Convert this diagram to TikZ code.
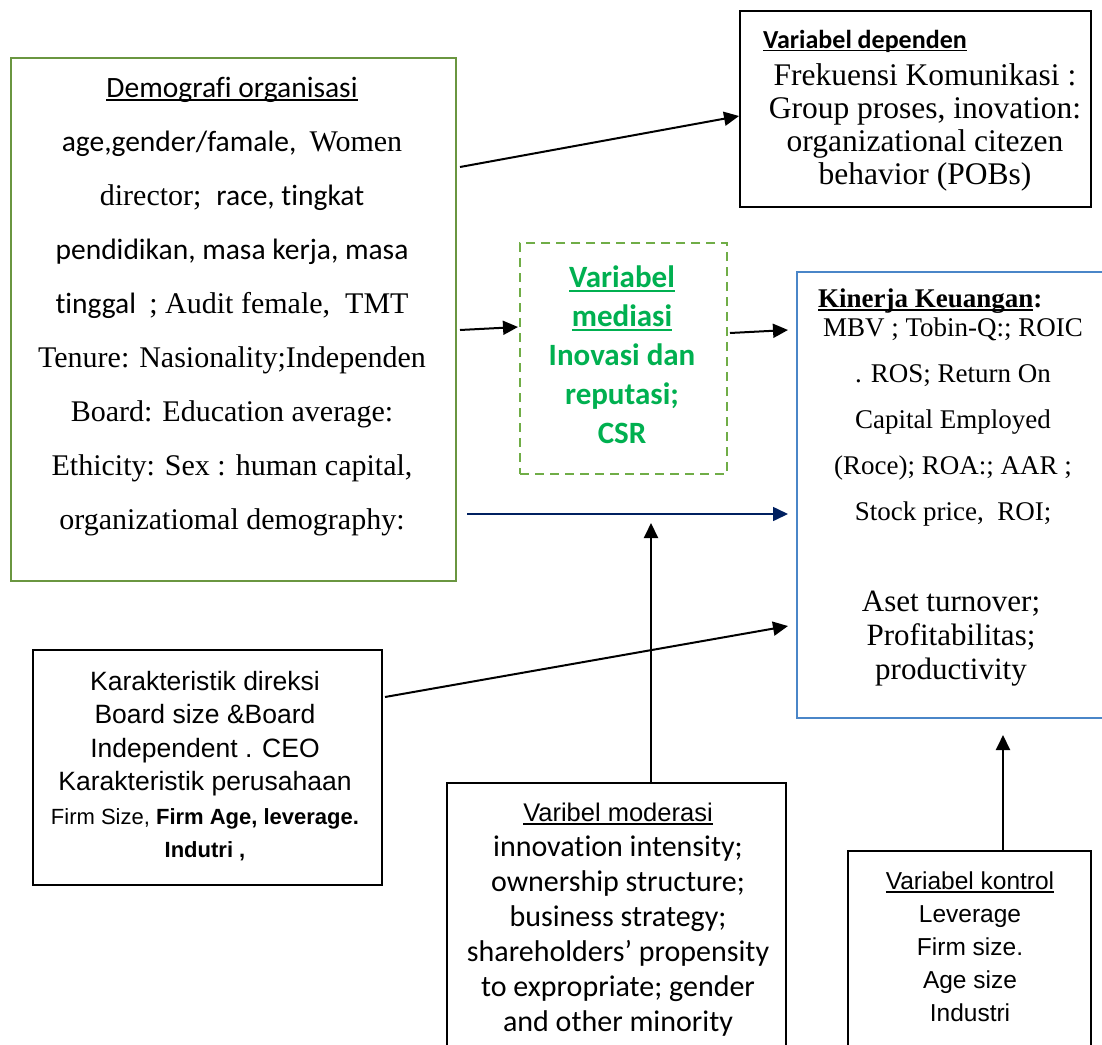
\documentclass[tikz,border=0pt]{standalone}
\usepackage{fontspec}
\setmainfont{Liberation Serif}
\newfontfamily\carl[Ligatures=NoCommon]{Carlito}
\newfontfamily\arl{Liberation Sans}
\usetikzlibrary{arrows.meta}
% underline with a bar scaled to the current font
\newcommand\ulbar[1]{\setbox0\hbox{#1}\rlap{\rule[-0.13em]{\wd0}{0.07em}}\box0}
\newcommand\tmr{\rmfamily\fontsize{30}{54}\selectfont}
\definecolor{demogreen}{RGB}{106,150,64}
\definecolor{medgreen}{RGB}{112,173,71}
\definecolor{medtext}{RGB}{0,176,80}
\definecolor{kinblue}{RGB}{74,134,200}
\definecolor{navy}{RGB}{0,32,96}
\tikzset{
  box/.style={draw, line width=2pt, inner sep=0pt, anchor=north west},
  lbl/.style={inner sep=0pt, align=center},
  arr/.style={line width=2pt, -{Triangle[length=15pt,width=14pt]}},
}
\begin{document}
\begin{tikzpicture}[x=1pt,y=-1pt]
\useasboundingbox (0,0) rectangle (1102,1044);
\fill[white] (0,0) rectangle (1102,1044);
\clip (0,0) rectangle (1102,1044);

% boxes
\node[box, draw=demogreen, minimum width=445pt, minimum height=523pt] (demo) at (10,57) {};
\node[box, minimum width=351pt, minimum height=196pt] (dep) at (739,10) {};
\node[box, draw=medgreen, dash pattern=on 9pt off 6pt, minimum width=207pt, minimum height=231pt] (med) at (519,242) {};
\node[box, draw=kinblue, minimum width=316pt, minimum height=446pt] (kin) at (796,271) {};
\node[box, minimum width=349pt, minimum height=235pt] (kar) at (32,649) {};
\node[box, minimum width=339pt, minimum height=280pt] (mod) at (446,782) {};
\node[box, minimum width=243pt, minimum height=220pt] (kon) at (847,850) {};

% texts
\node[lbl, anchor=north, font=\carl\fontsize{29.5}{54}\selectfont] (demotxt) at (232,77) {%
\ulbar{Demografi organisasi}\\
{age,gender/famale,\ \ }{\tmr Women}\\
{\tmr director;\ \ }{race, tingkat}\\
pendidikan, masa kerja, masa\\
{tinggal\ \ }{\tmr ; Audit female,\ \ TMT}\\
{\tmr Tenure: Nasionality;Independen}\\
{\tmr Board: Education average:}\\
{\tmr Ethicity: Sex : human capital,}\\
{\tmr organizatiomal demography:}};

\node[lbl, anchor=base west, font=\carl\bfseries\fontsize{26}{30}\selectfont] (deptitle) at (763,48) {\ulbar{Variabel dependen}};
\node[lbl, anchor=north, font=\fontsize{31.5}{33}\selectfont] (deptxt) at (925,63) {Frekuensi Komunikasi :\\Group proses, inovation:\\organizational citezen\\behavior (POBs)};

\node[lbl, anchor=north, text=medtext, font=\carl\bfseries\fontsize{31}{39}\selectfont] (medtxt) at (622,266) {\ulbar{Variabel}\\\ulbar{mediasi}\\Inovasi dan\\reputasi;\\CSR};

\node[lbl, anchor=base west, font=\bfseries\fontsize{27}{30}\selectfont] (kintitle) at (818,307) {\ulbar{Kinerja Keuangan}:};
\node[lbl, anchor=north, font=\fontsize{27}{46}\selectfont] (kinA) at (953,318) {MBV ; Tobin-Q:; ROIC\\. ROS; Return On\\Capital Employed\\(Roce); ROA:; AAR ;\\Stock price,\ \ ROI;};
\node[lbl, anchor=north, font=\fontsize{31}{34}\selectfont] (kinB) at (951,591) {Aset turnover;\\Profitabilitas;\\productivity};

\node[lbl, anchor=north, font=\arl\fontsize{26.5}{33.4}\selectfont] (kartxt) at (205,671) {Karakteristik direksi\\Board size \&Board\\Independent . CEO\\Karakteristik perusahaan\\{\fontsize{22}{24}\selectfont Firm Size, \bfseries Firm Age, leverage.}\\{\fontsize{22}{24}\selectfont\bfseries Indutri ,}};

\node[lbl, anchor=north, font=\carl\fontsize{30}{35}\selectfont] (modtxt) at (618,803) {{\arl\fontsize{25.5}{35}\selectfont\ulbar{Varibel moderasi}}\\innovation intensity;\\ownership structure;\\business strategy;\\shareholders’ propensity\\to expropriate; gender\\and other minority};

\node[lbl, anchor=north, font=\arl\fontsize{24.5}{33}\selectfont] (kontxt) at (970,872) {\ulbar{Variabel kontrol}\\Leverage\\Firm size.\\Age size\\Industri};

% connector end points
\path (demo.north east) ++(3,110) coordinate (s1);
\path (dep.north west) ++(0,106) coordinate (e1);
\path (demo.north east) ++(3,273) coordinate (s2);
\path (med.north west) ++(-1,85) coordinate (e2);
\path (med.north east) ++(2,91) coordinate (s3);
\path (kin.north west) ++(-8,59) coordinate (e3);
\path (demo.north east) ++(10,457) coordinate (s4);
\path (kin.north west) ++(-8,243) coordinate (e4);
\path (kar.north east) ++(2,48) coordinate (s5);
\path (kin.north west) ++(-8,355) coordinate (e5);
\path (mod.north west) ++(205,0) coordinate (s6);
\path (s6) ++(0,-259) coordinate (e6);
\path (kon.north west) ++(156,0) coordinate (s7);
\path (kin.south west) ++(207,16) coordinate (e7);

% connectors
\draw[arr] (s1) -- (e1);
\draw[arr] (s2) -- (e2);
\draw[arr] (s3) -- (e3);
\draw[arr, draw=navy, fill=navy, line width=1.6pt] (s4) -- (e4);
\draw[arr] (s5) -- (e5);
\draw[arr] (s6) -- (e6);
\draw[arr] (s7) -- (s7 |- e7);
\end{tikzpicture}
\end{document}
